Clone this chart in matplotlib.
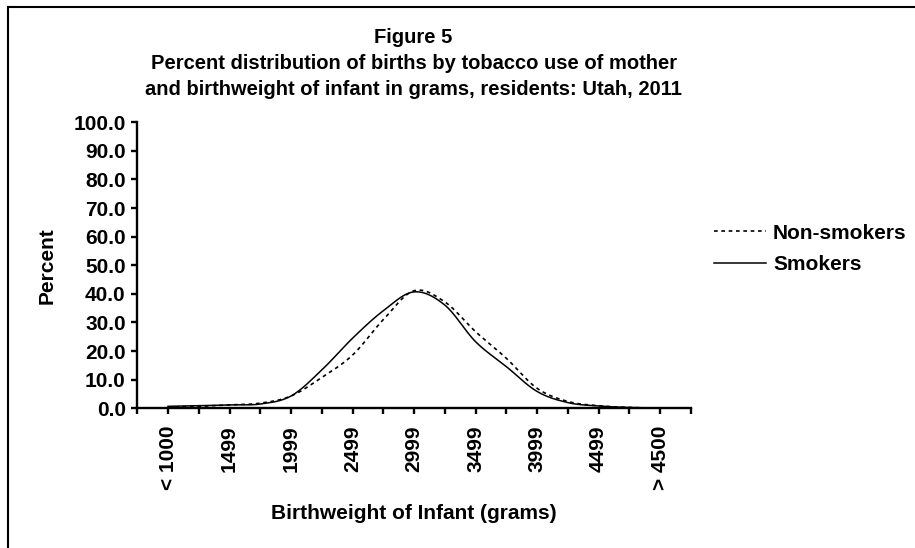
import numpy as np
import matplotlib
matplotlib.use('Agg')
from matplotlib import pyplot as plt
from matplotlib.lines import Line2D

plt.rcParams['font.family'] = ['Liberation Sans', 'DejaVu Sans']
plt.rcParams['font.weight'] = 'bold'

# category positions on the x axis (250 g steps), labels on every other one
positions = list(range(1, 18))
label_positions = [1, 3, 5, 7, 9, 11, 13, 15, 17]
tick_labels = ['< 1000', '1499', '1999', '2499', '2999', '3499', '3999', '4499', '> 4500']

non_smokers = [0.4, 0.7, 1.2, 1.8, 4.3, 10.8, 18.6, 31.0, 41.1, 37.2, 26.8, 17.5, 7.0, 2.4, 0.9, 0.3, 0.1]
smokers = [0.7, 0.9, 1.2, 1.5, 4.3, 13.4, 24.5, 34.1, 40.7, 36.1, 23.3, 14.6, 5.9, 2.0, 0.8, 0.3, 0.1]

FS = 15


def smooth(x, y, n=24):
    # excel-like smoothed line: cubic bezier through the points
    pts = np.column_stack([x, y]).astype(float)
    out = []
    for i in range(len(pts) - 1):
        p0 = pts[max(i - 1, 0)]
        p1 = pts[i]
        p2 = pts[i + 1]
        p3 = pts[min(i + 2, len(pts) - 1)]
        c1 = p1 + (p2 - p0) / 6
        c2 = p2 - (p3 - p1) / 6
        t = np.linspace(0, 1, n)[:, None]
        seg = (1 - t) ** 3 * p1 + 3 * (1 - t) ** 2 * t * c1 + 3 * (1 - t) * t ** 2 * c2 + t ** 3 * p2
        out.append(seg if i == 0 else seg[1:])
    out = np.vstack(out)
    return out[:, 0], out[:, 1]


fig = plt.figure(figsize=(9.15, 5.48), dpi=100)
ax = fig.add_axes([0.150, 0.2549, 0.605, 0.522])

xs, ys = smooth(positions, non_smokers)
ax.plot(xs, ys, color='black', lw=1.2, linestyle=(0, (2.2, 2.2)), label='Non-smokers')
xs, ys = smooth(positions, smokers)
ax.plot(xs, ys, color='black', lw=1.1, label='Smokers')

ax.set_xlim(0, 18)
ax.set_ylim(0, 100)
ax.set_yticks(np.arange(0, 101, 10))
ax.set_yticklabels([f'{v:.1f}' for v in np.arange(0, 101, 10)])
ax.set_xticks(range(19))
labels = [''] * 19
for p, t in zip(label_positions, tick_labels):
    labels[p] = t
ax.set_xticklabels(labels, rotation=90)

for s in ['top', 'right']:
    ax.spines[s].set_visible(False)
for s in ['left', 'bottom']:
    ax.spines[s].set_linewidth(1.7)
ax.tick_params(axis='both', direction='out', length=4.3, width=1.7, labelsize=FS)
ax.tick_params(axis='y', pad=4)
ax.tick_params(axis='x', pad=8)

ax.set_ylabel('Percent', fontsize=FS, fontweight='bold', labelpad=12)
ax.set_xlabel('Birthweight of Infant (grams)', fontsize=FS, fontweight='bold', labelpad=10)

fig.text(0.452, 0.949, 'Figure 5\nPercent distribution of births by tobacco use of mother\n'
         'and birthweight of infant in grams, residents: Utah, 2011',
         ha='center', va='top', fontsize=14.5, fontweight='bold', linespacing=1.48)

ax.legend(loc='center left', bbox_to_anchor=(0.780, 0.546), bbox_transform=fig.transFigure,
          frameon=False, fontsize=FS, handlelength=2.5, handletextpad=0.35, labelspacing=0.6,
          borderpad=0, borderaxespad=0)

# border of the chart area (top and left edges visible)
fig.add_artist(Line2D([8 / 915, 1], [1 - 6.5 / 548, 1 - 6.5 / 548], transform=fig.transFigure, color='black', lw=1.5))
fig.add_artist(Line2D([8 / 915, 8 / 915], [0, 1 - 6.5 / 548], transform=fig.transFigure, color='black', lw=1.5))

fig.savefig('out.png', dpi=100)
